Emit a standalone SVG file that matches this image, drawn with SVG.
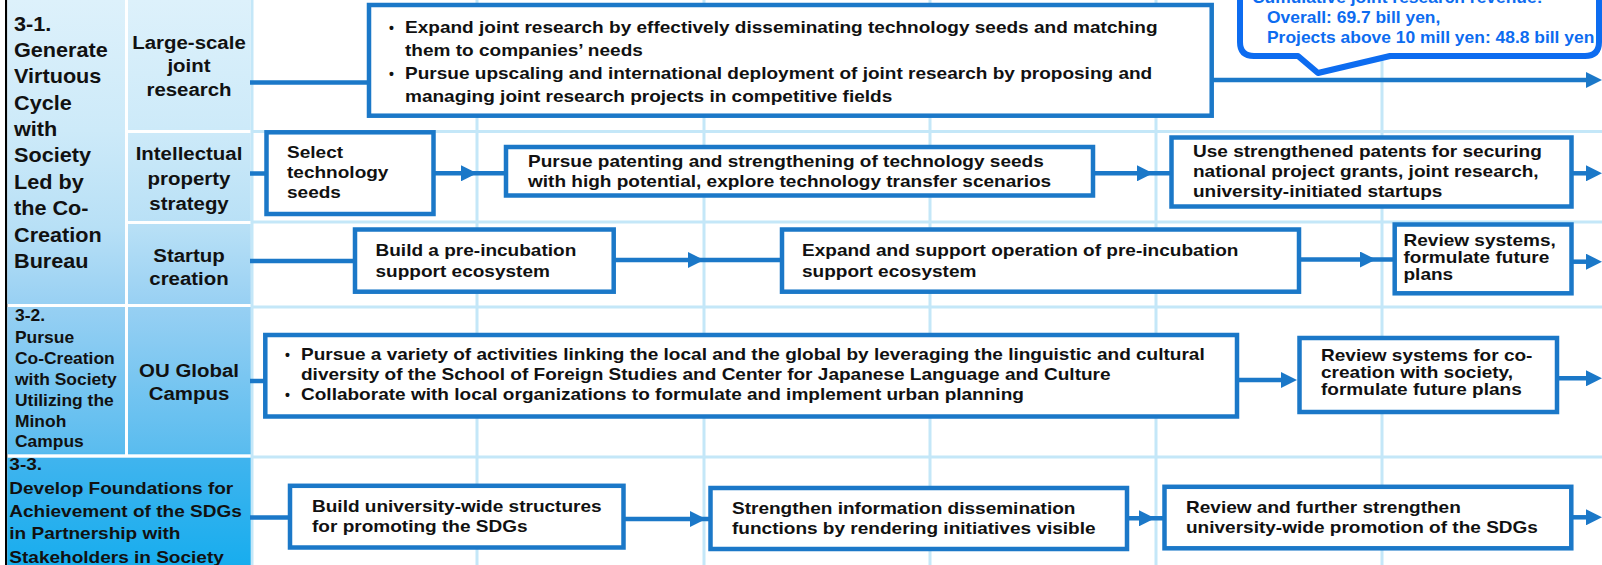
<svg xmlns="http://www.w3.org/2000/svg" width="1602" height="565" viewBox="0 0 1602 565">
<defs>
<linearGradient id="lg" gradientUnits="userSpaceOnUse" x1="0" y1="0" x2="0" y2="565">
<stop offset="0" stop-color="#ddf1fb"/>
<stop offset="0.23" stop-color="#cdeaf9"/>
<stop offset="0.4" stop-color="#b8e0f6"/>
<stop offset="0.54" stop-color="#98d0f3"/>
<stop offset="0.8" stop-color="#5abcef"/>
<stop offset="0.81" stop-color="#40b4ee"/>
<stop offset="1" stop-color="#18adee"/>
</linearGradient>
<marker id="ah" markerUnits="userSpaceOnUse" markerWidth="16" markerHeight="16" refX="8" refY="8" orient="auto">
<path d="M0,0 L16,8 L0,16 Z" fill="#1b78c8"/>
</marker>
</defs>
<style>
.grid{stroke:#c4e7f8;stroke-width:3;fill:none}
.cell{fill:url(#lg)}
.box{fill:#fff;stroke:#1b78c8;stroke-width:4.5}
.con{fill:none;stroke:#1b78c8;stroke-width:4.5}
.bt{font-family:"Liberation Sans",Arial,Helvetica,sans-serif;font-weight:bold;font-size:17px;fill:#111}
.bul{font-family:"Liberation Sans",Arial,Helvetica,sans-serif;font-weight:bold;font-size:14px;fill:#111}
.h1{font-family:"Liberation Sans",Arial,Helvetica,sans-serif;font-weight:bold;font-size:19.5px;fill:#111}
.h2{font-family:"Liberation Sans",Arial,Helvetica,sans-serif;font-weight:bold;font-size:19px;fill:#111;text-anchor:middle}
.h3{font-family:"Liberation Sans",Arial,Helvetica,sans-serif;font-weight:bold;font-size:16px;fill:#111}
.h4{font-family:"Liberation Sans",Arial,Helvetica,sans-serif;font-weight:bold;font-size:17.3px;fill:#111}
.ct{font-family:"Liberation Sans",Arial,Helvetica,sans-serif;font-weight:bold;font-size:16px;fill:#0d6cf0}
</style>
<rect x="0" y="0" width="1602" height="565" fill="#fff"/>
<g id="grid">
<path class="grid" d="M252,0V565M477,0V565M704,0V565M930,0V565M1156,0V565M1382,0V565M252,131.5H1602M252,222H1602M252,307H1602M252,457H1602"/>
</g>
<g id="left-column">
<rect x="5" y="0" width="2.3" height="565" fill="#000"/>
<rect class="cell" x="7.3" y="0" width="117.7" height="304"/>
<rect class="cell" x="128" y="0" width="122.7" height="130"/>
<rect class="cell" x="128" y="133" width="122.7" height="88"/>
<rect class="cell" x="128" y="224" width="122.7" height="80"/>
<rect class="cell" x="7.3" y="307" width="117.7" height="147.3"/>
<rect class="cell" x="128" y="307" width="122.7" height="147.3"/>
<rect class="cell" x="7.3" y="457.7" width="243.4" height="107.3"/>
</g>
<g id="goal-3-1">
<text class="h1" transform="translate(14,30.5) scale(1.11,1)"><tspan x="0" y="0">3-1.</tspan><tspan x="0" y="26.4">Generate</tspan><tspan x="0" y="52.8">Virtuous</tspan><tspan x="0" y="79.2">Cycle</tspan><tspan x="0" y="105.6">with</tspan><tspan x="0" y="132">Society</tspan><tspan x="0" y="158.4">Led by</tspan><tspan x="0" y="184.8">the Co-</tspan><tspan x="0" y="211.2">Creation</tspan><tspan x="0" y="237.6">Bureau</tspan></text>
</g>
<g id="label-large-scale">
<text class="h2" transform="translate(189,48.5) scale(1.075,1)"><tspan x="0" y="0">Large-scale</tspan><tspan x="0" y="24">joint</tspan><tspan x="0" y="48">research</tspan></text>
</g>
<g id="label-ip">
<text class="h2" transform="translate(189,160) scale(1.075,1)"><tspan x="0" y="0">Intellectual</tspan><tspan x="0" y="25">property</tspan><tspan x="0" y="50">strategy</tspan></text>
</g>
<g id="label-startup">
<text class="h2" transform="translate(189,261.5) scale(1.075,1)"><tspan x="0" y="0">Startup</tspan><tspan x="0" y="23.5">creation</tspan></text>
</g>
<g id="goal-3-2">
<text class="h3" transform="translate(15,320.5) scale(1.09,1)"><tspan x="0" y="0">3-2.</tspan><tspan x="0" y="22.7">Pursue</tspan><tspan x="0" y="43.4">Co-Creation</tspan><tspan x="0" y="64.3">with Society</tspan><tspan x="0" y="85.3">Utilizing the</tspan><tspan x="0" y="106.2">Minoh</tspan><tspan x="0" y="126.9">Campus</tspan></text>
</g>
<g id="label-ou-global">
<text class="h2" transform="translate(189,377.3) scale(1.075,1)"><tspan x="0" y="0">OU Global</tspan><tspan x="0" y="22.7">Campus</tspan></text>
</g>
<g id="goal-3-3">
<text class="h4" transform="translate(9.3,470) scale(1.1,1)"><tspan x="0" y="0">3-3.</tspan><tspan x="0" y="24">Develop Foundations for</tspan><tspan x="0" y="46.7">Achievement of the SDGs</tspan><tspan x="0" y="69.3">in Partnership with</tspan><tspan x="0" y="92.7">Stakeholders in Society</tspan></text>
</g>
<g id="connectors">
<path class="con" d="M250,82.5H369"/>
<path class="con" d="M1212,80H1594" marker-end="url(#ah)"/>
<path class="con" d="M250,173.5H266.5"/>
<path class="con" d="M433.5,173.3L469,173.3L506,173.3" marker-mid="url(#ah)"/>
<path class="con" d="M1093,173.3L1145,173.3L1171.5,173.3" marker-mid="url(#ah)"/>
<path class="con" d="M1571.5,173.3H1594" marker-end="url(#ah)"/>
<path class="con" d="M250,261H355"/>
<path class="con" d="M613.7,260L696,260L782,260" marker-mid="url(#ah)"/>
<path class="con" d="M1299,259.5L1368,259.5L1394.7,259.5" marker-mid="url(#ah)"/>
<path class="con" d="M1571.5,261.7H1594" marker-end="url(#ah)"/>
<path class="con" d="M250,381H265.3"/>
<path class="con" d="M1237,380H1289" marker-end="url(#ah)"/>
<path class="con" d="M1557,378.3H1594" marker-end="url(#ah)"/>
<path class="con" d="M250,517.5H290"/>
<path class="con" d="M623.5,519L698,519L710.5,519" marker-mid="url(#ah)"/>
<path class="con" d="M1127,518.3L1147,518.3L1164.5,518.3" marker-mid="url(#ah)"/>
<path class="con" d="M1571.3,517.3H1594" marker-end="url(#ah)"/>
</g>
<g id="node-joint-research">
<rect class="box" x="369" y="5" width="842.7" height="110.7"/>
<text class="bul" x="389" y="33">•</text>
<text class="bul" x="389" y="79">•</text>
<text class="bt" transform="translate(405,33) scale(1.12,1)"><tspan x="0" y="0">Expand joint research by effectively disseminating technology seeds and matching</tspan><tspan x="0" y="23">them to companies’ needs</tspan><tspan x="0" y="46">Pursue upscaling and international deployment of joint research by proposing and</tspan><tspan x="0" y="69">managing joint research projects in competitive fields</tspan></text>
</g>
<g id="node-callout">
<path d="M1240,-20 L1240,42 Q1240,56 1254,56 L1298,56 L1318,73 L1390,56 L1585,56 Q1599,56 1599,42 L1599,-20 Z" fill="#fff" stroke="#0d6cf0" stroke-width="6" stroke-linejoin="round"/>
<text class="ct" transform="translate(1252,3) scale(1.09,1)"><tspan x="0" y="0">Cumulative joint research revenue:</tspan></text>
<text class="ct" transform="translate(1267,23) scale(1.09,1)"><tspan x="0" y="0">Overall: 69.7 bill yen,</tspan><tspan x="0" y="20">Projects above 10 mill yen: 48.8 bill yen</tspan></text>
</g>
<g id="node-select-seeds">
<rect class="box" x="266.5" y="132.3" width="167" height="81.7"/>
<text class="bt" transform="translate(287,158) scale(1.12,1)"><tspan x="0" y="0">Select</tspan><tspan x="0" y="20">technology</tspan><tspan x="0" y="40">seeds</tspan></text>
</g>
<g id="node-patenting">
<rect class="box" x="506" y="147" width="587" height="48.5"/>
<text class="bt" transform="translate(528,167) scale(1.12,1)"><tspan x="0" y="0">Pursue patenting and strengthening of technology seeds</tspan><tspan x="0" y="20">with high potential, explore technology transfer scenarios</tspan></text>
</g>
<g id="node-use-patents">
<rect class="box" x="1171.5" y="137.5" width="400" height="69"/>
<text class="bt" transform="translate(1193,157) scale(1.12,1)"><tspan x="0" y="0">Use strengthened patents for securing</tspan><tspan x="0" y="20">national project grants, joint research,</tspan><tspan x="0" y="40">university-initiated startups</tspan></text>
</g>
<g id="node-build-preincubation">
<rect class="box" x="355" y="229.5" width="258.7" height="62.2"/>
<text class="bt" transform="translate(375.5,256) scale(1.12,1)"><tspan x="0" y="0">Build a pre-incubation</tspan><tspan x="0" y="21">support ecosystem</tspan></text>
</g>
<g id="node-expand-preincubation">
<rect class="box" x="782" y="229.5" width="517" height="62.2"/>
<text class="bt" transform="translate(802,256) scale(1.12,1)"><tspan x="0" y="0">Expand and support operation of pre-incubation</tspan><tspan x="0" y="21">support ecosystem</tspan></text>
</g>
<g id="node-review-startup">
<rect class="box" x="1394.7" y="224.5" width="176.8" height="68.8"/>
<text class="bt" transform="translate(1403.5,246) scale(1.12,1)"><tspan x="0" y="0">Review systems,</tspan><tspan x="0" y="17">formulate future</tspan><tspan x="0" y="34">plans</tspan></text>
</g>
<g id="node-global-campus">
<rect class="box" x="265.3" y="335" width="971.7" height="81.5"/>
<text class="bul" x="285" y="360">•</text>
<text class="bul" x="285" y="400">•</text>
<text class="bt" transform="translate(301,360) scale(1.12,1)"><tspan x="0" y="0">Pursue a variety of activities linking the local and the global by leveraging the linguistic and cultural</tspan><tspan x="0" y="20">diversity of the School of Foreign Studies and Center for Japanese Language and Culture</tspan><tspan x="0" y="40.5">Collaborate with local organizations to formulate and implement urban planning</tspan></text>
</g>
<g id="node-review-cocreation">
<rect class="box" x="1299.5" y="338" width="257.5" height="74"/>
<text class="bt" transform="translate(1321,361) scale(1.12,1)"><tspan x="0" y="0">Review systems for co-</tspan><tspan x="0" y="17">creation with society,</tspan><tspan x="0" y="34">formulate future plans</tspan></text>
</g>
<g id="node-sdg-structures">
<rect class="box" x="290" y="485.8" width="333.5" height="61.7"/>
<text class="bt" transform="translate(312,512) scale(1.12,1)"><tspan x="0" y="0">Build university-wide structures</tspan><tspan x="0" y="20">for promoting the SDGs</tspan></text>
</g>
<g id="node-sdg-dissemination">
<rect class="box" x="710.5" y="488" width="416.5" height="61"/>
<text class="bt" transform="translate(732,514) scale(1.12,1)"><tspan x="0" y="0">Strengthen information dissemination</tspan><tspan x="0" y="20">functions by rendering initiatives visible</tspan></text>
</g>
<g id="node-sdg-review">
<rect class="box" x="1164.5" y="486.8" width="406.8" height="61.5"/>
<text class="bt" transform="translate(1186,513) scale(1.12,1)"><tspan x="0" y="0">Review and further strengthen</tspan><tspan x="0" y="20">university-wide promotion of the SDGs</tspan></text>
</g>
</svg>
